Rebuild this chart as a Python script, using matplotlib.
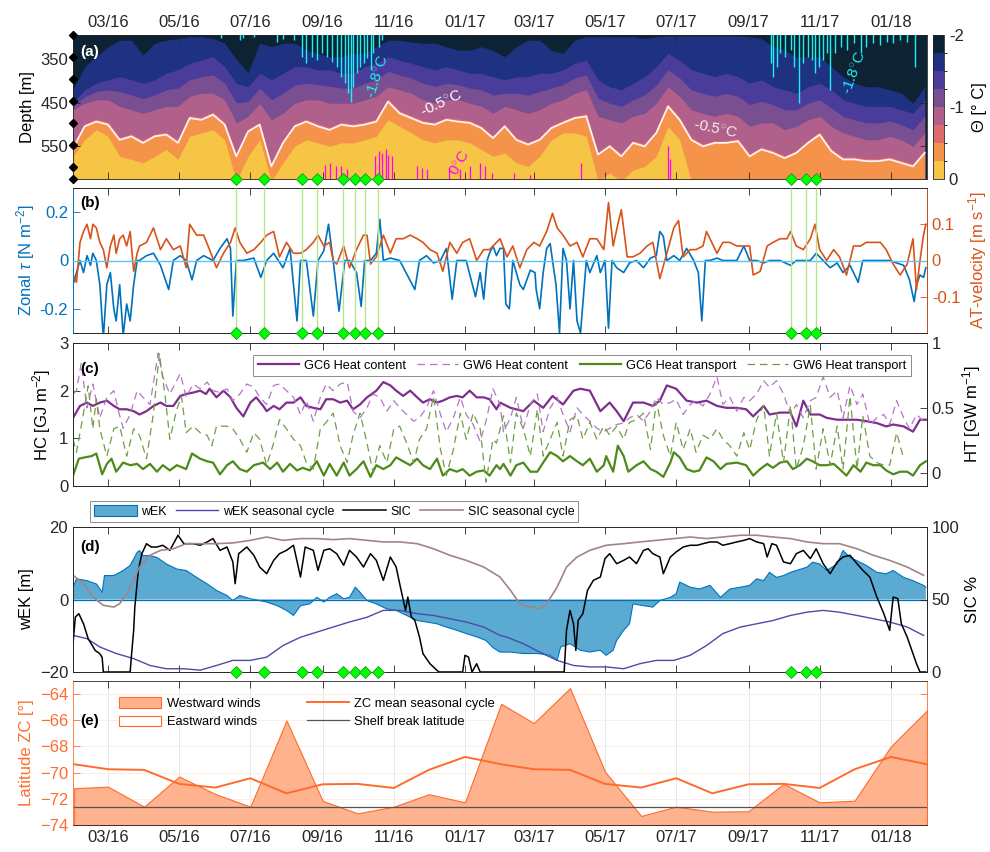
import numpy as np
import matplotlib
matplotlib.use("Agg")
import matplotlib.pyplot as plt
import matplotlib.dates as mdates
from matplotlib.colors import ListedColormap, BoundaryNorm
from matplotlib.cm import ScalarMappable
from matplotlib.patches import Patch
from matplotlib.lines import Line2D

plt.rcParams['font.family'] = ['Liberation Sans', 'DejaVu Sans']
plt.rcParams['mathtext.fontset'] = 'custom'
plt.rcParams['mathtext.rm'] = 'Liberation Sans'
plt.rcParams['mathtext.it'] = 'Liberation Sans:italic'
plt.rcParams['font.size'] = 12

# ---- shared time base: days since 2016-01-31 ----
X0 = mdates.date2num(np.datetime64('2016-01-31'))
XLIM = (X0, X0 + 732)

event_dates = ['2016-06-19', '2016-07-13', '2016-08-14', '2016-08-27', '2016-09-18',
               '2016-09-29', '2016-10-07', '2016-10-18', '2017-10-07', '2017-10-20',
               '2017-10-29']
instrument_depth = [294, 345, 395, 445, 496, 546, 597, 625]

# ---- (a) isotherm depths [m], sampled every 10 days ----
theta_day = np.arange(0, 731, 10)
iso_m175 = [420, 367, 344, 321, 306, 306, 340, 313, 306, 302,
            298, 298, 302, 313, 350, 380, 313, 321, 313, 313,
            329, 336, 344, 344, 336, 336, 321, 306, 306, 310,
            313, 313, 321, 329, 329, 321, 329, 344, 321, 306,
            306, 329, 336, 306, 298, 298, 298, 298, 298, 302,
            298, 296, 296, 296, 296, 296, 296, 296, 298, 302,
            321, 329, 344, 344, 344, 367, 390, 405, 413, 413,
            420, 428, 451, 413]
iso_m150 = [450, 420, 405, 397, 390, 397, 405, 397, 382, 374,
            359, 352, 344, 367, 405, 413, 382, 397, 382, 367,
            367, 374, 374, 382, 382, 367, 359, 344, 352, 359,
            367, 374, 367, 374, 382, 382, 390, 397, 390, 390,
            382, 382, 374, 359, 352, 397, 413, 420, 405, 390,
            367, 336, 352, 374, 382, 390, 382, 390, 405, 397,
            413, 420, 428, 413, 405, 420, 443, 451, 458, 458,
            458, 466, 474, 443]
iso_m125 = [458, 436, 424, 420, 424, 432, 440, 432, 420, 416,
            397, 390, 386, 405, 450, 447, 416, 443, 428, 409,
            405, 408, 412, 416, 416, 405, 397, 378, 386, 393,
            405, 412, 405, 408, 416, 420, 432, 428, 428, 432,
            424, 416, 408, 393, 386, 439, 451, 458, 443, 432,
            409, 374, 393, 420, 428, 435, 428, 435, 454, 446,
            454, 466, 466, 451, 443, 462, 481, 489, 496, 496,
            492, 500, 512, 481]
iso_m100 = [466, 451, 443, 443, 458, 466, 474, 466, 458, 458,
            435, 428, 428, 443, 496, 481, 451, 489, 474, 451,
            443, 443, 451, 451, 451, 443, 435, 413, 420, 428,
            443, 451, 443, 443, 451, 458, 474, 458, 466, 474,
            466, 451, 443, 428, 420, 481, 489, 496, 481, 474,
            451, 413, 435, 466, 474, 481, 474, 481, 504, 496,
            496, 512, 504, 489, 481, 504, 519, 527, 535, 535,
            527, 535, 550, 519]
iso_m075 = [548, 498, 487, 494, 529, 521, 536, 521, 517, 536,
            479, 483, 471, 494, 567, 510, 494, 590, 536, 498,
            487, 498, 506, 494, 498, 494, 487, 441, 468, 479,
            490, 494, 483, 487, 490, 502, 525, 498, 529, 540,
            529, 502, 490, 479, 475, 563, 544, 567, 536, 544,
            513, 452, 483, 529, 544, 536, 536, 532, 567, 551,
            559, 571, 559, 536, 517, 555, 574, 574, 578, 578,
            574, 582, 590, 559]
iso_m050 = [554, 504, 493, 500, 535, 527, 542, 527, 523, 542,
            485, 489, 477, 500, 573, 516, 500, 596, 542, 504,
            493, 504, 512, 500, 504, 500, 493, 447, 474, 485,
            496, 500, 489, 493, 496, 508, 531, 504, 535, 546,
            535, 508, 496, 485, 481, 569, 550, 573, 542, 550,
            519, 458, 489, 535, 550, 542, 542, 538, 573, 557,
            565, 577, 565, 542, 523, 561, 580, 580, 584, 584,
            580, 588, 596, 565]
iso_m025 = [573, 535, 512, 527, 573, 580, 588, 573, 557, 580,
            527, 519, 512, 535, 630, 573, 535, 630, 588, 550,
            535, 542, 550, 542, 542, 535, 527, 489, 504, 519,
            535, 542, 535, 535, 542, 557, 573, 565, 588, 596,
            573, 535, 519, 519, 527, 630, 611, 630, 604, 596,
            573, 504, 535, 630, 630, 630, 630, 630, 630, 630,
            630, 630, 630, 630, 630, 630, 630, 630, 630, 630,
            630, 630, 630, 630]

# -1.8 C contour intrusions from the top (day, deepest depth)
cold_day = [127, 143, 146, 155, 175, 180, 189, 196, 200, 205, 209, 213, 218, 222,
            226, 230, 233, 236, 238, 240, 243, 246, 249, 252, 255, 257, 262, 265,
            598, 600, 603, 606, 610, 615, 618, 622, 626, 630, 633, 636, 639, 643,
            646, 649, 653, 658, 663, 669, 675, 680, 686, 692, 698, 703, 709, 715, 722]
cold_depth = [302, 306, 302, 298, 310, 304, 306, 344, 359, 344, 352, 336, 344, 355,
              367, 390, 405, 428, 447, 413, 382, 367, 359, 348, 374, 336, 321, 306,
              359, 390, 367, 336, 344, 329, 367, 451, 359, 344, 352, 382, 367, 352,
              336, 420, 336, 321, 329, 313, 336, 321, 313, 317, 310, 313, 306, 310, 367]
# 0 C contour intrusions from the bottom (day, shallowest depth)
warm_day = [216, 220, 225, 230, 235, 259, 262, 265, 268, 270, 273, 295, 299, 303,
            322, 332, 340, 349, 353, 359, 378, 392, 435, 510, 512]
warm_depth = [592, 588, 596, 596, 603, 573, 561, 565, 557, 569, 573, 596, 599, 603,
              599, 603, 596, 588, 596, 611, 611, 615, 588, 550, 580]

theta_levels = np.linspace(-2, 0, 9)
theta_colors = ['#0D2333', '#1E3281', '#4A3C9B', '#7A4F92',
                '#B0608A', '#DE6D6A', '#F5934A', '#F6C545']

# ---- (b) zonal wind stress and along-trough velocity (day, value) ----
tau_pts = [(0, -0.10), (3, -0.05), (6, 0.00), (9, -0.05), (12, 0.02), (15, -0.02), (17, 0.03),
           (20, 0.00), (23, -0.10), (26, -0.32), (29, -0.10), (32, -0.05), (35, -0.20),
           (37, -0.25), (40, -0.10), (43, -0.31), (46, -0.18), (49, -0.25), (52, -0.10),
           (55, 0.00), (57, 0.00), (63, 0.02), (69, 0.03), (75, -0.02), (82, -0.12), (86, 0.00),
           (92, 0.02), (97, 0.00), (102, -0.08), (106, 0.00), (112, 0.02), (120, 0.00),
           (126, 0.05), (132, 0.09), (135, 0.05), (137, -0.23), (140, 0.00), (146, 0.00),
           (155, 0.01), (161, -0.07), (166, 0.00), (172, 0.03), (180, -0.03), (186, 0.05),
           (192, -0.25), (195, 0.00), (200, 0.00), (206, -0.23), (210, 0.00), (215, 0.04),
           (219, 0.15), (223, 0.00), (228, -0.21), (233, 0.00), (237, 0.00), (243, -0.05),
           (247, -0.19), (250, 0.00), (255, 0.00), (260, 0.03), (263, 0.17), (266, 0.00),
           (272, 0.01), (280, 0.00), (293, -0.12), (297, 0.00), (303, 0.02), (309, -0.01),
           (315, 0.00), (320, 0.05), (325, -0.16), (329, 0.00), (337, 0.00), (345, -0.15),
           (349, -0.05), (352, -0.16), (355, 0.00), (357, 0.03), (360, 0.06), (363, 0.02),
           (366, 0.05), (369, 0.05), (371, -0.18), (374, -0.20), (377, 0.00), (380, -0.05),
           (383, -0.10), (386, -0.12), (389, -0.08), (392, -0.04), (396, -0.05), (397, -0.12),
           (400, -0.20), (403, -0.05), (406, 0.05), (409, 0.07), (411, 0.00), (414, -0.10),
           (417, -0.30), (420, 0.05), (423, 0.00), (426, -0.20), (429, 0.00), (432, -0.25),
           (435, -0.30), (437, -0.18), (440, 0.00), (443, -0.05), (449, 0.02), (452, -0.05),
           (456, 0.00), (459, -0.28), (462, 0.00), (466, -0.03), (472, -0.05), (477, -0.01),
           (483, 0.00), (489, -0.03), (495, 0.01), (500, 0.02), (503, 0.12), (506, 0.10),
           (509, 0.00), (515, 0.02), (520, 0.00), (526, 0.05), (532, 0.00), (536, -0.05),
           (539, -0.25), (542, 0.00), (546, 0.00), (552, 0.01), (557, 0.00), (563, 0.00),
           (569, 0.00), (575, 0.06), (580, 0.00), (586, 0.00), (592, -0.01), (597, 0.00),
           (606, 0.00), (615, -0.02), (620, 0.00), (626, 0.00), (632, 0.00), (637, 0.03),
           (643, 0.00), (649, -0.03), (655, -0.01), (660, -0.05), (666, -0.02), (673, -0.09),
           (677, 0.00), (683, 0.00), (689, 0.00), (695, 0.00), (700, 0.00), (706, -0.01),
           (712, -0.02), (717, -0.08), (721, -0.17), (723, -0.10), (726, -0.06), (729, -0.07),
           (731, -0.03)]
at_pts = [(0, -0.04), (3, -0.06), (6, 0.05), (9, 0.08), (12, 0.10), (15, 0.06), (17, 0.10),
          (20, 0.09), (23, 0.05), (26, 0.03), (29, -0.02), (32, 0.04), (35, 0.07), (37, 0.02),
          (40, 0.06), (43, 0.07), (46, 0.04), (49, 0.08), (52, -0.03), (55, 0.02), (57, 0.04),
          (63, 0.05), (69, 0.09), (75, 0.03), (80, 0.06), (86, 0.03), (92, 0.04), (97, -0.02),
          (100, 0.10), (106, 0.07), (112, 0.07), (117, 0.03), (123, -0.02), (129, 0.02),
          (135, 0.05), (139, 0.09), (143, 0.05), (149, 0.02), (155, 0.03), (161, 0.05),
          (166, 0.07), (172, 0.08), (177, 0.01), (183, 0.05), (189, 0.02), (195, 0.02),
          (200, 0.03), (206, 0.05), (210, 0.07), (215, 0.04), (220, 0.05), (223, 0.00),
          (226, -0.01), (232, 0.04), (237, -0.02), (243, 0.03), (249, 0.07), (252, 0.07),
          (255, -0.01), (260, 0.01), (266, 0.07), (272, 0.02), (277, 0.06), (283, 0.06),
          (289, 0.07), (295, 0.06), (300, 0.05), (306, 0.03), (312, 0.02), (317, -0.03),
          (323, 0.05), (329, 0.02), (334, 0.05), (340, 0.06), (346, 0.00), (352, 0.03),
          (357, 0.03), (363, 0.05), (366, 0.06), (372, 0.01), (377, 0.04), (383, -0.02),
          (389, 0.03), (395, 0.05), (400, 0.04), (406, 0.08), (411, 0.13), (415, 0.09),
          (420, 0.07), (426, 0.04), (432, 0.05), (437, 0.01), (443, 0.06), (449, 0.06),
          (455, 0.03), (459, 0.16), (463, 0.04), (467, 0.10), (470, 0.14), (475, 0.01),
          (480, 0.01), (486, 0.02), (492, 0.04), (497, 0.05), (503, -0.05), (509, 0.02),
          (515, 0.09), (519, 0.11), (523, 0.01), (529, 0.03), (534, 0.03), (540, 0.04),
          (543, 0.08), (546, 0.06), (552, 0.02), (557, 0.05), (563, 0.05), (569, 0.04),
          (575, 0.04), (580, 0.04), (583, -0.04), (589, -0.03), (595, 0.04), (600, 0.05),
          (606, 0.06), (612, 0.06), (615, 0.08), (620, 0.04), (626, 0.03), (632, 0.06),
          (636, 0.10), (640, 0.03), (646, 0.00), (652, 0.03), (657, 0.01), (663, -0.04),
          (669, 0.04), (675, 0.04), (680, 0.05), (686, 0.05), (692, 0.05), (697, 0.03),
          (703, -0.01), (709, -0.04), (715, -0.01), (720, 0.06), (723, -0.08), (726, 0.00),
          (729, 0.07), (731, 0.10)]

# ---- (c) heat content [GJ m-2] and heat transport [GW m-1] ----
gc6_hc = [(0, 1.43), (6, 1.68), (12, 1.75), (17, 1.68), (23, 1.75), (29, 1.79), (35, 1.68),
          (40, 1.61), (46, 1.61), (52, 1.57), (57, 1.50), (63, 1.57), (69, 1.68), (75, 1.75),
          (80, 1.68), (86, 1.68), (92, 1.89), (97, 1.93), (103, 1.96), (109, 2.00), (114, 1.93),
          (117, 2.04), (123, 1.86), (129, 2.00), (135, 1.86), (140, 1.64), (146, 1.46),
          (152, 1.75), (157, 1.86), (163, 1.68), (166, 1.57), (172, 1.68), (177, 1.61),
          (183, 1.75), (189, 1.75), (195, 1.86), (200, 1.68), (206, 1.64), (212, 1.61),
          (217, 1.82), (223, 1.82), (229, 1.75), (235, 1.79), (240, 1.61), (246, 1.71),
          (252, 1.86), (260, 2.00), (266, 2.18), (272, 2.11), (277, 2.00), (283, 1.89),
          (289, 2.00), (295, 1.86), (300, 1.75), (306, 1.82), (312, 1.75), (317, 1.79),
          (323, 1.86), (329, 1.89), (334, 1.86), (340, 2.00), (346, 1.86), (352, 1.86),
          (357, 1.82), (363, 1.61), (366, 1.75), (375, 1.64), (386, 1.57), (395, 1.79),
          (403, 1.64), (411, 1.89), (420, 1.71), (429, 2.00), (435, 2.04), (443, 2.00),
          (452, 1.57), (460, 1.75), (466, 1.57), (472, 1.36), (480, 1.75), (489, 1.75),
          (497, 1.68), (503, 1.79), (509, 2.11), (517, 2.04), (526, 1.79), (535, 1.75),
          (543, 1.79), (552, 1.68), (560, 1.64), (569, 1.64), (577, 1.61), (583, 1.46),
          (592, 1.68), (597, 1.50), (606, 1.54), (615, 1.54), (620, 1.25), (626, 1.79),
          (632, 1.50), (640, 1.50), (646, 1.43), (655, 1.39), (663, 1.39), (672, 1.39),
          (680, 1.36), (689, 1.32), (697, 1.25), (703, 1.29), (712, 1.25), (720, 1.14),
          (726, 1.39), (731, 1.39)]
gw6_hc = [(0, 1.93), (3, 2.00), (7, 2.57), (12, 1.64), (17, 2.14), (23, 1.43), (29, 1.86),
          (35, 2.00), (39, 1.57), (43, 1.21), (49, 1.50), (55, 2.00), (60, 1.86), (66, 1.71),
          (73, 2.79), (77, 2.29), (83, 1.93), (92, 2.36), (97, 1.86), (103, 2.14), (109, 2.04),
          (115, 2.18), (120, 2.00), (126, 1.96), (132, 2.04), (137, 1.79), (143, 1.93),
          (149, 2.14), (155, 2.07), (160, 1.86), (166, 1.71), (172, 2.11), (177, 2.14),
          (183, 2.00), (189, 1.86), (195, 1.50), (200, 1.79), (206, 1.36), (212, 1.86),
          (217, 2.14), (223, 2.00), (229, 2.14), (235, 2.18), (240, 1.57), (246, 1.43),
          (252, 1.64), (257, 1.93), (263, 1.86), (269, 1.57), (275, 1.79), (280, 1.64),
          (286, 1.50), (292, 1.36), (297, 1.43), (303, 1.64), (309, 2.00), (315, 1.50),
          (320, 1.14), (326, 1.43), (332, 1.86), (337, 1.50), (343, 1.29), (349, 0.93),
          (354, 1.36), (360, 2.04), (366, 1.71), (369, 1.14), (375, 1.43), (380, 1.86),
          (386, 1.21), (392, 1.71), (398, 1.93), (403, 1.14), (409, 1.64), (415, 1.86),
          (420, 1.50), (426, 1.14), (432, 1.64), (437, 1.50), (443, 1.36), (449, 1.21),
          (455, 1.14), (460, 1.21), (466, 1.29), (472, 1.32), (477, 1.43), (483, 1.50),
          (489, 1.36), (495, 1.57), (500, 1.86), (506, 1.71), (512, 1.75), (517, 1.82),
          (523, 1.50), (529, 1.71), (534, 1.79), (540, 1.68), (546, 1.93), (552, 2.29),
          (557, 1.71), (563, 1.86), (569, 1.57), (575, 1.86), (580, 1.79), (586, 1.93),
          (592, 2.21), (597, 2.07), (603, 2.21), (609, 1.93), (615, 1.50), (620, 1.71),
          (626, 1.43), (632, 1.79), (637, 1.86), (643, 2.29), (649, 1.86), (655, 2.00),
          (660, 1.43), (666, 2.11), (672, 1.71), (677, 1.93), (683, 1.29), (689, 1.43),
          (695, 1.50), (700, 1.29), (706, 1.79), (712, 1.43), (717, 1.20), (723, 1.50),
          (729, 1.36)]
gc6_ht = [(0, -0.02), (5, 0.11), (10, 0.12), (16, 0.13), (20, 0.15), (25, -0.01), (29, 0.07),
          (33, 0.11), (37, 0.01), (43, 0.08), (49, 0.06), (55, 0.07), (60, 0.03), (66, 0.07),
          (72, 0.01), (77, 0.06), (83, 0.02), (89, 0.06), (97, 0.03), (102, 0.15), (109, 0.11),
          (115, 0.09), (120, 0.08), (126, -0.01), (132, 0.06), (137, 0.09), (143, 0.03),
          (149, 0.01), (155, 0.06), (163, 0.08), (169, 0.03), (175, 0.08), (180, 0.01),
          (186, 0.07), (192, 0.02), (197, 0.04), (203, 0.02), (209, 0.09), (215, -0.02),
          (220, 0.07), (226, -0.02), (232, 0.08), (237, -0.02), (243, 0.03), (249, 0.09),
          (255, -0.03), (260, 0.06), (266, 0.03), (272, 0.06), (277, 0.12), (283, 0.09),
          (289, 0.06), (295, 0.11), (300, 0.06), (306, 0.03), (312, 0.11), (317, -0.02),
          (323, 0.03), (329, 0.01), (334, 0.03), (340, -0.02), (346, 0.01), (352, 0.02),
          (357, -0.02), (363, 0.06), (366, 0.03), (369, 0.07), (375, -0.02), (380, 0.06),
          (386, 0.08), (392, 0.01), (398, 0.01), (403, 0.08), (409, 0.16), (415, 0.13),
          (420, 0.09), (426, 0.13), (432, 0.09), (437, 0.06), (443, 0.11), (449, 0.01),
          (455, 0.06), (457, 0.13), (463, 0.01), (467, 0.21), (472, 0.13), (476, 0.01),
          (483, 0.06), (489, 0.09), (495, 0.03), (500, 0.01), (506, -0.03), (512, 0.08),
          (515, 0.16), (520, 0.12), (526, 0.03), (532, 0.01), (537, 0.02), (543, 0.12),
          (549, 0.09), (555, 0.03), (560, 0.07), (569, 0.08), (577, 0.06), (583, -0.02),
          (589, 0.03), (595, 0.07), (600, 0.04), (606, 0.08), (612, 0.09), (617, 0.03),
          (623, 0.06), (629, 0.11), (634, 0.09), (640, 0.06), (646, 0.06), (652, 0.07),
          (657, 0.03), (663, -0.02), (669, 0.06), (675, 0.01), (680, 0.08), (686, 0.06),
          (692, 0.06), (697, 0.02), (703, -0.01), (709, 0.01), (715, 0.01), (720, -0.02),
          (726, 0.06), (731, 0.09)]
gw6_ht = [(0, 0.26), (3, 0.16), (9, 0.46), (13, 0.67), (17, 0.34), (20, 0.57), (23, 0.34),
          (29, 0.13), (35, 0.34), (40, 0.36), (46, 0.13), (52, 0.34), (57, 0.29), (63, 0.11),
          (69, 0.46), (74, 0.92), (79, 0.59), (83, 0.26), (89, 0.49), (93, 0.59), (97, 0.31),
          (103, 0.36), (109, 0.31), (115, 0.29), (119, 0.21), (123, 0.36), (132, 0.36),
          (137, 0.34), (143, 0.26), (149, 0.16), (155, 0.31), (160, 0.26), (166, 0.06),
          (172, 0.23), (177, 0.41), (183, 0.34), (189, 0.26), (195, 0.21), (200, 0.08),
          (206, 0.03), (212, 0.34), (217, 0.39), (223, 0.46), (229, 0.21), (235, 0.08),
          (240, 0.29), (246, 0.46), (252, 0.23), (257, 0.01), (263, 0.21), (269, 0.08),
          (275, 0.34), (280, 0.36), (286, 0.23), (292, 0.08), (297, 0.26), (303, 0.34),
          (309, 0.59), (315, 0.18), (320, -0.02), (326, 0.18), (332, 0.46), (337, 0.26),
          (343, 0.46), (349, 0.34), (354, -0.07), (360, 0.26), (363, 0.23), (369, 0.44),
          (375, 0.08), (380, 0.46), (386, 0.34), (392, 0.13), (398, 0.49), (403, 0.13),
          (409, 0.26), (415, 0.39), (420, 0.13), (426, 0.41), (432, 0.44), (437, 0.26),
          (443, 0.39), (449, 0.26), (455, 0.36), (460, 0.29), (466, 0.36), (472, 0.26),
          (477, 0.39), (483, 0.41), (489, 0.46), (495, 0.18), (500, 0.55), (506, 0.29),
          (512, 0.13), (517, 0.39), (523, 0.18), (529, 0.34), (534, 0.16), (540, 0.29),
          (546, 0.26), (552, 0.34), (557, 0.26), (563, 0.21), (569, 0.13), (575, 0.31),
          (580, 0.18), (586, 0.41), (592, 0.52), (597, 0.13), (603, 0.46), (609, 0.08),
          (615, 0.52), (620, 0.03), (626, 0.21), (632, 0.52), (637, 0.03), (643, 0.34),
          (649, 0.06), (655, 0.36), (660, 0.03), (666, 0.59), (672, 0.03), (677, 0.44),
          (683, 0.13), (689, 0.08), (695, 0.06), (700, 0.06), (706, 0.31), (712, 0.11)]

# ---- (d) Ekman pumping [m] and sea-ice concentration [%] ----
wek_pts = [(0, 3.4), (3, 5.7), (12, 5.2), (20, 4.3), (25, 2.0), (27, 6.6), (35, 6.6), (43, 8.0),
           (49, 9.4), (55, 13.0), (57, 13.5), (60, 12.1), (66, 12.1), (72, 11.6), (80, 9.8),
           (89, 8.4), (97, 8.0), (106, 6.1), (115, 4.3), (123, 2.5), (132, 1.1), (137, -0.3),
           (143, 1.1), (152, 0.2), (160, -0.3), (166, -0.7), (175, -1.7), (183, -3.0),
           (189, -4.4), (195, -1.7), (203, -1.2), (209, 0.6), (215, -0.7), (220, 0.6),
           (226, 1.6), (232, 0.2), (237, 0.6), (242, 3.4), (246, 2.0), (252, -0.3), (260, -1.2),
           (269, -2.6), (277, -3.0), (286, -4.4), (295, -5.8), (303, -6.2), (312, -6.7),
           (320, -7.6), (329, -8.5), (337, -9.4), (346, -10.3), (354, -11.3), (360, -13.3),
           (366, -14.5), (375, -14.5), (386, -14.9), (398, -14.9), (409, -15.4), (415, -16.8),
           (418, -13.1), (426, -12.2), (435, -14.0), (443, -14.5), (452, -14.0), (457, -15.4),
           (463, -14.0), (466, -11.3), (472, -8.5), (477, -6.7), (480, -1.2), (489, -1.7),
           (497, -2.1), (503, -0.3), (512, 0.6), (517, 1.6), (520, 4.8), (529, 3.4), (537, 2.9),
           (546, 3.9), (555, 0.6), (563, 2.9), (572, 3.4), (580, 3.9), (586, 5.7), (592, 5.2),
           (597, 7.5), (603, 6.1), (609, 6.6), (615, 7.5), (620, 8.0), (629, 8.9), (634, 10.3),
           (640, 9.8), (646, 8.0), (655, 9.8), (660, 13.5), (666, 11.6), (672, 10.7),
           (680, 9.4), (689, 7.5), (697, 7.1), (703, 8.0), (712, 6.1), (720, 5.2), (729, 3.9),
           (731, 3.4)]
wek_cycle = [(0, -9.9), (12, -10.8), (23, -13.1), (37, -14.9), (52, -16.3), (66, -18.2),
             (80, -19.1), (95, -19.1), (109, -19.5), (123, -18.2), (137, -16.8), (152, -16.8),
             (166, -15.9), (180, -12.7), (195, -10.4), (209, -9.0), (223, -7.6), (237, -6.2),
             (252, -4.9), (266, -3.0), (280, -3.0), (295, -3.9), (309, -4.4), (323, -5.3),
             (337, -6.2), (352, -7.6), (366, -9.9), (372, -10.4), (386, -12.2), (400, -14.5),
             (415, -16.8), (429, -18.2), (443, -18.6), (457, -18.6), (472, -19.1), (486, -17.7),
             (500, -16.8), (515, -16.8), (529, -15.4), (543, -12.7), (557, -9.4), (572, -7.6),
             (586, -6.7), (600, -5.8), (615, -4.4), (629, -3.5), (643, -3.0), (657, -3.5),
             (672, -4.4), (686, -5.3), (700, -6.2), (715, -7.6), (729, -9.9)]
sic_pts = [(0, 19.5), (2, 37.9), (5, 40.2), (9, 33.3), (13, 23.0), (19, 14.9), (23, 12.6),
           (25, 10.0), (26, 0), (49, 0), (50, 10.3), (52, 28.7), (53, 44.8), (56, 70.1),
           (59, 81.6), (63, 88.5), (67, 86.2), (72, 86.2), (77, 87.4), (83, 83.9), (90, 94.3),
           (95, 88.5), (103, 88.5), (109, 87.4), (115, 89.7), (120, 92.0), (126, 83.9),
           (132, 86.2), (137, 75.9), (139, 60.9), (142, 81.6), (149, 86.2), (155, 80.5),
           (160, 72.4), (166, 67.8), (172, 77.0), (177, 81.6), (183, 83.9), (189, 87.4),
           (195, 65.5), (199, 86.2), (206, 83.9), (210, 70.1), (215, 83.9), (220, 85.0),
           (226, 81.6), (232, 73.6), (237, 83.9), (243, 79.3), (249, 72.4), (255, 81.6),
           (260, 77.0), (266, 63.2), (272, 79.3), (277, 72.4), (280, 60.9), (285, 42.5),
           (287, 51.7), (290, 37.9), (293, 35.6), (297, 24.1), (300, 12.6), (306, 5.7),
           (312, 1.1), (314, 0), (334, 0), (336, 11.5), (339, 10.3), (342, 0), (346, 5.7),
           (349, 0), (421, 0), (423, 28.7), (426, 42.5), (429, 33.3), (431, 14.9), (433, 35.6),
           (437, 40.2), (441, 56.3), (446, 63.2), (452, 65.5), (456, 78.2), (460, 81.6),
           (466, 74.7), (472, 77.0), (477, 79.3), (483, 74.7), (489, 83.9), (493, 85.0),
           (497, 81.6), (503, 79.3), (506, 67.8), (512, 79.3), (517, 82.8), (523, 86.2),
           (529, 87.4), (535, 87.4), (540, 88.5), (546, 89.7), (552, 89.7), (557, 87.4),
           (563, 88.5), (569, 89.7), (575, 90.8), (580, 92.0), (586, 89.7), (592, 88.5),
           (595, 79.3), (599, 88.5), (603, 87.4), (609, 75.9), (615, 74.7), (620, 81.6),
           (626, 83.9), (632, 78.2), (637, 85.0), (643, 74.7), (649, 67.8), (655, 75.9),
           (660, 79.3), (666, 80.5), (672, 74.7), (677, 70.1), (683, 65.5), (689, 51.7),
           (695, 40.2), (700, 28.7), (703, 51.7), (707, 50.6), (710, 33.3), (715, 24.1),
           (719, 14.9), (723, 5.7), (726, 0), (731, 0)]
sic_cycle = [(0, 66.7), (9, 61.0), (17, 51.7), (26, 46.0), (35, 44.8), (40, 47.1), (46, 54.0),
             (52, 63.2), (57, 72.4), (66, 80.5), (75, 83.9), (86, 85.0), (97, 88.5), (109, 88.5),
             (123, 88.5), (137, 89.0), (152, 90.8), (166, 93.1), (180, 90.8), (195, 92.0),
             (209, 92.0), (223, 91.3), (237, 92.0), (252, 90.8), (266, 89.7), (280, 89.7),
             (295, 88.5), (309, 85.0), (323, 80.5), (337, 77.0), (352, 72.4), (366, 65.5),
             (375, 56.3), (383, 47.1), (392, 44.8), (400, 43.7), (406, 47.1), (415, 58.6),
             (423, 72.4), (432, 79.3), (443, 83.9), (457, 87.4), (472, 88.5), (486, 89.7),
             (500, 90.8), (515, 92.0), (529, 93.1), (543, 92.0), (557, 93.1), (572, 94.3),
             (586, 94.3), (600, 93.1), (615, 92.0), (629, 89.7), (643, 88.5), (657, 88.5),
             (672, 85.0), (686, 80.5), (700, 77.0), (715, 72.4), (729, 66.7)]

# ---- (e) monthly latitude of the zero wind-stress curl ----
zc_month = np.arange(np.datetime64('2016-02'), np.datetime64('2018-03')).astype('datetime64[D]')
zc_westward = [-71.19, -71.07, -72.60, -70.30, -71.63, -72.60, -66.02, -72.16, -73.11,
               -72.60, -71.65, -72.27, -64.74, -66.22, -63.54, -69.92, -73.31, -72.60,
               -72.98, -72.95, -70.86, -72.27, -72.14, -68.00, -65.25]
zc_cycle = [-69.36, -69.74, -69.79, -70.86, -71.14, -70.43, -71.58, -70.89, -70.86,
            -71.17, -69.79, -68.80, -69.36, -69.74, -69.79, -70.86, -71.14, -70.43,
            -71.58, -70.89, -70.86, -71.17, -69.74, -68.80, -69.36]
shelf_break_lat = -72.6

BLUE, ORANGE = '#0072BD', '#D95319'
AX_COL = '#262626'
ZC_COL = '#FF6B2C'


def days(pts):
    d, v = np.array(pts, dtype=float).T
    return X0 + d, v


def time_axis(ax, labels=False, top=False):
    ax.set_xlim(XLIM)
    ax.xaxis.set_major_locator(mdates.MonthLocator(bymonth=[1, 3, 5, 7, 9, 11]))
    ax.xaxis.set_major_formatter(mdates.DateFormatter('%m/%y'))
    ax.tick_params(axis='x', direction='in', length=5, width=0.6, top=True, bottom=True,
                   colors=AX_COL, labelsize=12, labelbottom=labels and not top,
                   labeltop=labels and top)
    for s in ax.spines.values():
        s.set_linewidth(0.6)
        s.set_color(AX_COL)


def y_style(ax, color=AX_COL, side='left'):
    ax.tick_params(axis='y', direction='in', length=5, width=0.6, colors=color, labelsize=12)
    ax.spines[side].set_color(color)


def panel_tag(ax, tag, y, color='black'):
    ax.text(0.008, y, tag, transform=ax.transAxes, fontsize=11, fontweight='bold',
            color=color, ha='left', va='center', zorder=20)


fig = plt.figure(figsize=(9.9, 8.52), dpi=100)


def box(top_px, bottom_px):
    return [73 / 990, 1 - bottom_px / 852, 854 / 990, (bottom_px - top_px) / 852]


ax_a = fig.add_axes(box(35, 179))
ax_b = fig.add_axes(box(188, 333))
ax_c = fig.add_axes(box(343, 486))
ax_d = fig.add_axes(box(527, 672))
ax_e = fig.add_axes(box(681, 825))
cax = fig.add_axes([933 / 990, 1 - 179 / 852, 11 / 990, 144 / 852])

ev = mdates.date2num(np.array(event_dates, dtype='datetime64[D]'))
diamond = dict(marker='D', ms=6.5, mfc='#00FF00', mec='#169B16', mew=0.6, ls='none',
               clip_on=False, zorder=30)

# ---------------- (a) potential temperature ----------------
A_TOP, A_BOT = 294, 625
ta = X0 + theta_day
ax_a.set_facecolor(theta_colors[0])
for iso, col in zip([iso_m175, iso_m150, iso_m125, iso_m100, iso_m075, iso_m050, iso_m025],
                    theta_colors[1:]):
    ax_a.fill_between(ta, iso, 640, color=col, lw=0)
ax_a.vlines(X0 + np.array(cold_day), 280, cold_depth, color='#1EF0F0', lw=1.0, zorder=5)
ax_a.vlines(X0 + np.array(warm_day), warm_depth, 640, color='#FF00FF', lw=0.9, zorder=5)
ax_a.plot(ta, iso_m050, color='#FFF2F2', lw=1.3, zorder=6)
ax_a.set_ylim(A_BOT, A_TOP)
time_axis(ax_a, labels=True, top=True)
ax_a.set_yticks([350, 450, 550])
y_style(ax_a)
ax_a.tick_params(axis='y', right=True)
ax_a.set_ylabel('Depth [m]', fontsize=12)
for lbl, d, z, rot, col in [('-1.8$^{\\circ}$C', 261, 390, 72, '#1EF0F0'),
                            ('-1.8$^{\\circ}$C', 670, 381, 70, '#1EF0F0'),
                            ('-0.5$^{\\circ}$C', 316, 453, 25, 'white'),
                            ('-0.5$^{\\circ}$C', 550, 512, -12, '#F4ECEC'),
                            ('0$^{\\circ}$C', 332, 588, 60, '#FF00FF')]:
    ax_a.text(X0 + d, z, lbl, color=col, fontsize=11, rotation=rot,
              ha='center', va='center', zorder=8)
ax_a.plot(np.full(len(instrument_depth), XLIM[0]), instrument_depth, 'D', color='black',
          ms=4.5, clip_on=False, zorder=30)
ax_a.plot(ev, np.full(len(ev), A_BOT), **diamond)
panel_tag(ax_a, '(a)', 0.88, 'white')

sm = ScalarMappable(norm=BoundaryNorm(theta_levels, 8), cmap=ListedColormap(theta_colors))
cb = fig.colorbar(sm, cax=cax, ticks=[-2, -1, 0])
cb.ax.invert_yaxis()
cb.ax.set_yticklabels(['-2', '-1', '0'])
cb.ax.tick_params(length=0, labelsize=12, colors=AX_COL)
cb.outline.set_linewidth(0.6)
cb.outline.set_edgecolor(AX_COL)
cb.set_label('Θ [° C]', fontsize=12, labelpad=6)

# ---------------- (b) wind stress / along-trough velocity ----------------
x, v = days(tau_pts)
ax_b.plot(x, v, color=BLUE, lw=1.2)
ax_b.set_ylim(-0.3, 0.3)
time_axis(ax_b)
ax_b.set_yticks([-0.2, 0, 0.2], ['-0.2', '0', '0.2'])
y_style(ax_b, BLUE)
ax_b.set_ylabel(r'Zonal $\tau$ [N m$^{-2}$]', color=BLUE, fontsize=12, labelpad=2)
bt = ax_b.twinx()
x, v = days(at_pts)
bt.plot(x, v, color=ORANGE, lw=1.2)
bt.axhline(0, color='#5CC4F2', lw=1.0, zorder=4)
bt.vlines(ev, -0.2, 0.2, color='#B9E28F', lw=1.0, zorder=5)
bt.set_ylim(-0.2, 0.2)
bt.set_yticks([-0.1, 0, 0.1], ['-0.1', '0', '0.1'])
time_axis(bt)
y_style(bt, ORANGE, 'right')
bt.spines['left'].set_color(BLUE)
bt.set_ylabel(r'AT-velocity [m s$^{-1}$]', color=ORANGE, fontsize=12)
bt.plot(ev, np.full(len(ev), -0.2), **diamond)
panel_tag(ax_b, '(b)', 0.90)

# ---------------- (c) heat content / heat transport ----------------
PURPLE, PURPLE_L = '#7E2F8E', '#B575C6'
GREEN, GREEN_L = '#4E8A1A', '#6F9E45'
x, v = days(gc6_hc)
ax_c.plot(x, v, color=PURPLE, lw=1.6)
x, v = days(gw6_hc)
ax_c.plot(x, v, color=PURPLE_L, lw=0.9, dashes=(6, 4))
ax_c.set_ylim(0, 3)
time_axis(ax_c)
ax_c.set_yticks([0, 1, 2, 3])
y_style(ax_c)
ax_c.set_ylabel(r'HC [GJ m$^{-2}$]', fontsize=12)
ct = ax_c.twinx()
x, v = days(gc6_ht)
ct.plot(x, v, color=GREEN, lw=1.6)
x, v = days(gw6_ht)
ct.plot(x, v, color=GREEN_L, lw=0.9, dashes=(6, 4))
ct.set_ylim(-0.1, 1)
ct.set_yticks([0, 0.5, 1], ['0', '0.5', '1'])
time_axis(ct)
y_style(ct, side='right')
ct.set_ylabel(r'HT [GW m$^{-1}$]', fontsize=12)
leg_c = ct.legend([Line2D([], [], color=PURPLE, lw=1.6),
                   Line2D([], [], color=PURPLE_L, lw=0.9, dashes=(6, 4)),
                   Line2D([], [], color=GREEN, lw=1.6),
                   Line2D([], [], color=GREEN_L, lw=0.9, dashes=(6, 4))],
                  ['GC6 Heat content', 'GW6 Heat content', 'GC6 Heat transport',
                   'GW6 Heat transport'],
                  loc='upper right', bbox_to_anchor=(0.989, 0.958), ncol=4, fontsize=9.2,
                  handlelength=3.2, handletextpad=0.4, columnspacing=0.9, borderpad=0.35,
                  fancybox=False, framealpha=1, edgecolor='#8C8C8C')
leg_c.get_frame().set_linewidth(0.7)
panel_tag(ax_c, '(c)', 0.82)

# ---------------- (d) Ekman pumping / sea ice ----------------
WEK_FILL, WEK_LINE, WEK_SC = '#5AAAD2', BLUE, '#4B4BA8'
SIC_SC = '#A08585'
x, v = days(wek_pts)
ax_d.fill_between(x, 0, v, facecolor=WEK_FILL, edgecolor='none')
ax_d.plot(x, v, color=WEK_LINE, lw=0.8)
ax_d.axhline(0, color=WEK_LINE, lw=0.9)
x, v = days(wek_cycle)
ax_d.plot(x, v, color=WEK_SC, lw=1.0)
ax_d.set_ylim(-20, 20)
time_axis(ax_d)
ax_d.set_yticks([-20, 0, 20])
y_style(ax_d)
ax_d.set_ylabel('wEK [m]', fontsize=12)
dt = ax_d.twinx()
x, v = days(sic_pts)
dt.plot(x, v, color='black', lw=1.1)
x, v = days(sic_cycle)
dt.plot(x, v, color=SIC_SC, lw=1.2)
dt.set_ylim(0, 100)
dt.set_yticks([0, 50, 100])
time_axis(dt)
y_style(dt, side='right')
dt.set_ylabel('SIC %', fontsize=12)
dt.plot(ev, np.full(len(ev), 0), **diamond)
leg_d = fig.legend([Patch(facecolor=WEK_FILL, edgecolor=WEK_LINE, lw=0.8),
                    Line2D([], [], color=WEK_SC, lw=1.0),
                    Line2D([], [], color='black', lw=1.1),
                    Line2D([], [], color=SIC_SC, lw=1.2)],
                   ['wEK', 'wEK seasonal cycle', 'SIC', 'SIC seasonal cycle'],
                   loc='upper left', bbox_to_anchor=(84 / 990, 1 - 495 / 852), ncol=4,
                   fontsize=9, handlelength=3.4, handleheight=1.0, handletextpad=0.4,
                   columnspacing=0.7, borderpad=0.3, fancybox=False, framealpha=1,
                   edgecolor='#8C8C8C')
leg_d.get_frame().set_linewidth(0.7)
panel_tag(ax_d, '(d)', 0.86)

# ---------------- (e) zero-curl latitude ----------------
xm = mdates.date2num(zc_month)
ax_e.grid(True, axis='x', color='#E4E4E4', lw=0.6)
ax_e.grid(True, axis='y', color='#FFE9DF', lw=0.6)
ax_e.set_axisbelow(True)
ax_e.fill_between(xm, -74, zc_westward, facecolor='#FFB28E', edgecolor=ZC_COL, lw=0.8)
ax_e.plot(xm, zc_cycle, color=ZC_COL, lw=1.4)
ax_e.axhline(shelf_break_lat, color='#555555', lw=0.9)
ax_e.set_ylim(-74, -63)
time_axis(ax_e, labels=True)
ax_e.set_yticks([-74, -72, -70, -68, -66, -64])
y_style(ax_e, ZC_COL)
ax_e.tick_params(axis='y', right=True)
ax_e.spines['right'].set_color(ZC_COL)
ax_e.set_ylabel('Latitude ZC [°]', color=ZC_COL, fontsize=12)
ax_e.legend([Patch(facecolor='#FFB28E', edgecolor=ZC_COL, lw=0.8),
             Patch(facecolor='white', edgecolor=ZC_COL, lw=0.8),
             Line2D([], [], color=ZC_COL, lw=1.4),
             Line2D([], [], color='#555555', lw=0.9)],
            ['Westward winds', 'Eastward winds', 'ZC mean seasonal cycle',
             'Shelf break latitude'],
            loc='upper left', bbox_to_anchor=(0.04, 0.97), ncol=2, fontsize=9.3,
            frameon=False, handlelength=3.3, handleheight=0.9, handletextpad=0.4,
            columnspacing=3.6, labelspacing=0.45)
panel_tag(ax_e, '(e)', 0.72)

fig.savefig('out.png', dpi=100)
